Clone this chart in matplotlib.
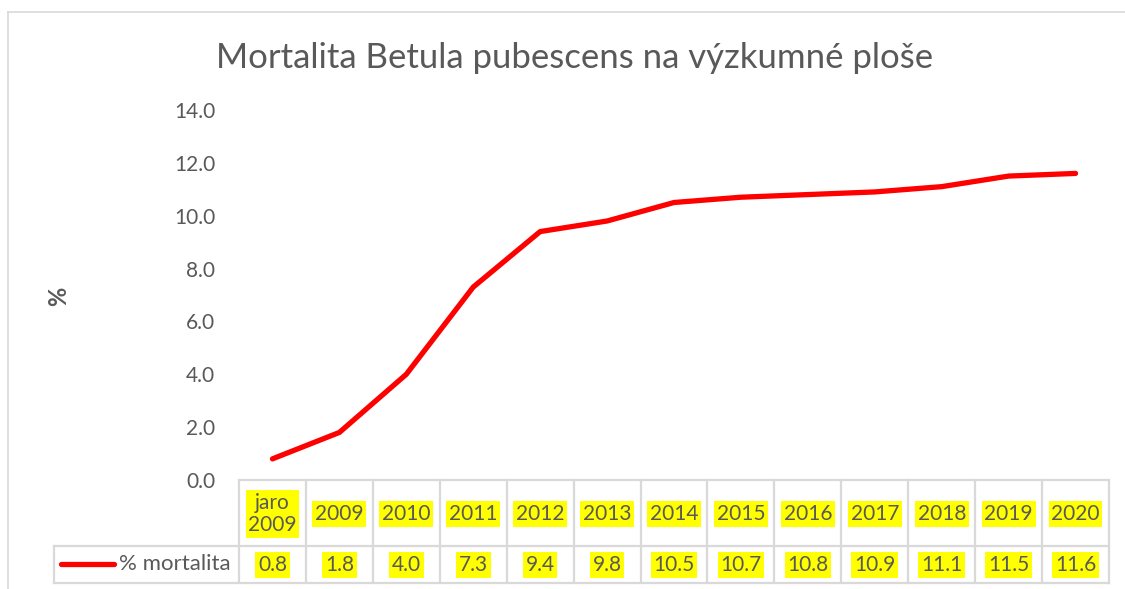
import matplotlib.pyplot as plt
from matplotlib.lines import Line2D
from matplotlib.transforms import blended_transform_factory

categories = ["jaro\n2009", "2009", "2010", "2011", "2012", "2013", "2014",
              "2015", "2016", "2017", "2018", "2019", "2020"]
mortality = [0.8, 1.8, 4.0, 7.3, 9.4, 9.8, 10.5, 10.7, 10.8, 10.9, 11.1, 11.5, 11.6]
y_ticks = [0, 2, 4, 6, 8, 10, 12, 14]

plt.rcParams['font.family'] = ['Lato', 'DejaVu Sans']
txt_col = '#595959'
grid_col = '#d9d9d9'
red = '#ff0000'
hl = dict(facecolor='#ffff00', edgecolor='none', pad=2.0)
fs = 15

W, H = 1125, 589
fig = plt.figure(figsize=(W / 100, H / 100), dpi=100)

# plot area in pixels
left_px, right_px = 239, 1109
top_px, bottom_px = 110, 480
ax = fig.add_axes([left_px / W, 1 - bottom_px / H,
                   (right_px - left_px) / W, (bottom_px - top_px) / H])

x = list(range(len(categories)))
ax.plot(x, mortality, color=red, lw=3.8, solid_capstyle='round', solid_joinstyle='round')
ax.set_xlim(-0.5, len(categories) - 0.5)
ax.set_ylim(0, 14)
ax.set_yticks(y_ticks)
ax.set_yticklabels([f"{v:.1f}" for v in y_ticks], color=txt_col, fontsize=15)
ax.tick_params(axis='y', length=0, pad=17)
ax.set_xticks([])
for s in ax.spines.values():
    s.set_visible(False)

fig.text(575 / W, 1 - 58 / H, "Mortalita Betula pubescens na výzkumné ploše",
         ha='center', va='center', fontsize=25, color=txt_col)
fig.text(59 / W, 1 - 296 / H, "%", rotation=90, ha='center', va='center',
         fontsize=17, fontweight='bold', color=txt_col)

# data table below the axis
def fy(px):
    return 1 - px / H

def fx(px):
    return px / W

row1, row2, row3 = 480, 546, 583
tab_left = 54
lines = []
lines.append(((fx(left_px), fx(right_px)), (fy(row1), fy(row1))))
lines.append(((fx(tab_left), fx(right_px)), (fy(row2), fy(row2))))
lines.append(((fx(tab_left), fx(right_px)), (fy(row3), fy(row3))))
lines.append(((fx(tab_left), fx(tab_left)), (fy(row2), fy(row3))))
for xs, ys in lines:
    fig.add_artist(Line2D(xs, ys, color=grid_col, lw=1.6, transform=fig.transFigure))

trans = blended_transform_factory(ax.transData, fig.transFigure)
for i in range(len(categories) + 1):
    fig.add_artist(Line2D([i - 0.5, i - 0.5], [fy(row1), fy(row3)], color=grid_col,
                          lw=1.6, transform=trans))

for i, (cat, val) in enumerate(zip(categories, mortality)):
    fig.text(i, fy((row1 + row2) / 2 + 1), cat, transform=trans, ha='center', va='center',
             fontsize=fs, color=txt_col, bbox=hl, linespacing=1.15)
    fig.text(i, fy((row2 + row3) / 2 + 0.5), f"{val:.1f}", transform=trans, ha='center',
             va='center', fontsize=fs, color=txt_col, bbox=hl)

# legend key in table
fig.add_artist(Line2D([fx(61), fx(114)], [fy(564), fy(564)], color=red, lw=3.8,
                      solid_capstyle='round', transform=fig.transFigure))
fig.text(fx(119), fy(564.5), "% mortalita", ha='left', va='center', fontsize=16, color=txt_col)

# chart frame
fig.add_artist(Line2D([fx(8), fx(8)], [fy(12), 0], color=grid_col, lw=1.2, transform=fig.transFigure))
fig.add_artist(Line2D([fx(8), 1], [fy(12), fy(12)], color=grid_col, lw=1.2, transform=fig.transFigure))

fig.savefig("out.png", dpi=100)
